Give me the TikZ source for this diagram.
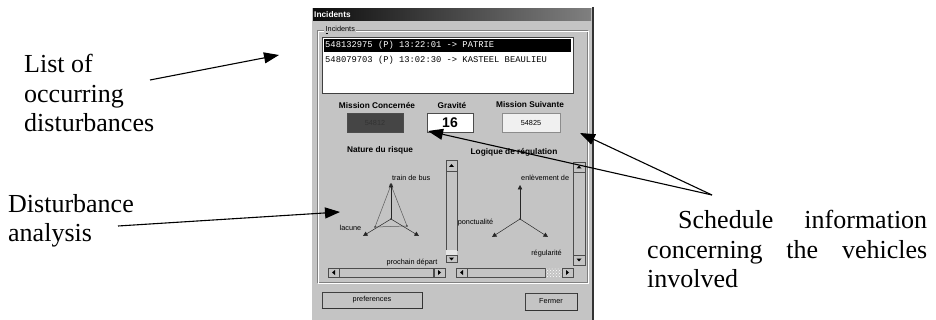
\documentclass[tikz,border=0pt]{standalone}
\usepackage{fontspec}
\setmainfont{Liberation Serif}
\setsansfont{Liberation Sans}
\setmonofont{Liberation Mono}
\usetikzlibrary{arrows.meta}
\usetikzlibrary{positioning}
\usetikzlibrary{patterns}
\definecolor{wgray}{rgb}{0.77, 0.77, 0.77}
\definecolor{wshade}{rgb}{0.5, 0.5, 0.5}
\definecolor{boxdark}{rgb}{0.27, 0.27, 0.27}

\begin{document}
\begin{tikzpicture}[x=1pt, y=-1pt,
    note/.style={font=\fontsize{26}{29.5}\selectfont, inner sep=0pt, align=left},
    callout/.style={line width=1.1pt, -{Triangle[length=15pt, width=11pt]}},
    uitext/.style={font=\sffamily\fontsize{7.3}{8.6}\selectfont, inner sep=0pt},
    uititle/.style={font=\sffamily\bfseries\fontsize{8.3}{10}\selectfont, inner sep=0pt},
    bevel/.style={path picture={\draw [white, line width=1.2pt] ([xshift=0.6pt]path picture bounding box.south west) |- ([yshift=-0.6pt]path picture bounding box.north east);}},
    button/.style={draw=black!75, fill=wgray, bevel, line width=0.6pt, inner sep=0pt, uitext},
    valbox/.style={draw=black!70, line width=0.7pt, minimum height=19pt, inner sep=0pt},
    axis/.style={-{Triangle[length=4.5pt, width=4.5pt]}, line width=0.5pt, black!85},
    scrl/.style={draw=black!70, fill=wgray, line width=0.5pt, bevel}
  ]
  \useasboundingbox (0,0) rectangle (936,320);

  \fill [wgray] (311,7) rectangle (593,320);
  \draw [white, line width=1pt] (311.5,320) -- (311.5,7.5) -- (592,7.5);
  \draw [black!80, line width=1.4pt] (593,7) -- (593,320);
  \shade [left color=black!95, right color=black!50] (313,9) rectangle (591,21);
  \node [uititle, white, anchor=west] (title) at (314,15) {Incidents};

  \draw [wshade] (317,30) rectangle (587,282);
  \draw [white] (318,31) rectangle (588,283);
  \node [uitext, fill=wgray, inner xsep=1.5pt, anchor=west] (grouplbl) at (324,30) {\underline{I}ncidents};

  \draw [fill=white, draw=black!75, line width=0.8pt] (322,37) rectangle (573,93);
  \fill [black] (324,39) rectangle (571,52);
  \node [anchor=west, font=\ttfamily\fontsize{8.8}{10}\selectfont, white, inner sep=0pt] (row1) at (325,45.5) {548132975 (P) 13:22:01 -> PATRIE};
  \node [anchor=west, font=\ttfamily\fontsize{8.8}{10}\selectfont, inner sep=0pt] (row2) at (325,60) {548079703 (P) 13:02:30 -> KASTEEL BEAULIEU};

  \node [uititle] (lblmc) at (377,105) {Mission Concernée};
  \node [uititle] (lblgr) at (452,105) {Gravité};
  \node [uititle] (lblms) at (530,105) {Mission Suivante};
  \node [valbox, fill=boxdark, minimum width=56pt, text=black!80, uitext] (mcbox) at (375,122.5) {54812};
  \node [valbox, fill=white, minimum width=46pt, font=\sffamily\bfseries\fontsize{14}{16}\selectfont] (grbox) at (450,122.5) {16};
  \node [valbox, fill=black!6, draw=black!45, minimum width=58pt, uitext] (msbox) at (531,122.5) {54825};

  \node [uititle] (lblnat) at (380,150) {Nature du risque};
  \node [uititle] (lbllog) at (514,152) {Logique de régulation};

  \coordinate (nc) at (391,219);
  \coordinate (ntop) at (391,183);
  \coordinate (nleft) at (363,236);
  \coordinate (nright) at (419,236);
  \draw [black!65, line width=0.5pt] (391,185) -- (375,227) -- (407,226) -- cycle;
  \draw [axis] (nc) -- (ntop);
  \draw [axis] (nc) -- (nleft);
  \draw [axis] (nc) -- (nright);
  \draw [black!80, line width=0.5pt] (391,185) circle (1.3);
  \fill [black!80] (375,227) circle (0.9) (407,226) circle (0.9) (nc) circle (0.9);
  \node [uitext, anchor=west] (lbltrain) at (392,178) {train de bus};
  \node [uitext] (lbllac) at (350.5,228) {lacune};
  \node [uitext] (lblproch) at (412,263) {prochain départ};

  \coordinate (lc) at (520,219);
  \coordinate (ltop) at (520,185);
  \coordinate (lleft) at (492,237);
  \coordinate (lright) at (548,237);
  \draw [axis] (lc) -- (ltop);
  \draw [axis] (lc) -- (lleft);
  \draw [axis] (lc) -- (lright);
  \fill [black!80] (lc) circle (1);
  \node [uitext, anchor=west] (lblenl) at (521,178) {enlèvement de};
  \node [uitext] (lblponc) at (475.5,223) {ponctualité};
  \node [uitext] (lblreg) at (546.5,254) {régularité};

  \draw [scrl] (446,160) rectangle (457,171);
  \fill (451.5,164) -- ++(-2.5,3) -- ++(5,0) -- cycle;
  \draw [scrl] (446,171) rectangle (457,250);
  \fill [black!10] (446.3,250) rectangle (456.7,255);
  \draw [scrl] (446,255) rectangle (457,262);
  \fill (451.5,260.5) -- ++(-2.5,-3) -- ++(5,0) -- cycle;

  \draw [scrl] (573,162) rectangle (585,172);
  \fill (579,165.5) -- ++(-2.5,3) -- ++(5,0) -- cycle;
  \draw [scrl] (573,172) rectangle (585,255);
  \draw [scrl] (573,255) rectangle (585,265);
  \fill (579,261.5) -- ++(-2.5,-3) -- ++(5,0) -- cycle;

  \draw [scrl] (328,268) rectangle (339,277);
  \fill (332,272.5) -- ++(3,-2.5) -- ++(0,5) -- cycle;
  \draw [scrl] (339,268) rectangle (433,277);
  \draw [scrl] (434,268) rectangle (445,277);
  \fill (441,272.5) -- ++(-3,-2.5) -- ++(0,5) -- cycle;

  \draw [scrl] (456,268) rectangle (467,277);
  \fill (460,272.5) -- ++(3,-2.5) -- ++(0,5) -- cycle;
  \draw [scrl] (467,268) rectangle (545,277);
  \fill [pattern=crosshatch dots, pattern color=white] (545,268.3) rectangle (562,276.7);
  \draw [scrl] (562,268) rectangle (573,277);
  \fill (569,272.5) -- ++(-3,-2.5) -- ++(0,5) -- cycle;

  \node [button, minimum width=100pt, minimum height=16pt] (prefbtn) at (372,300) {preferences};
  \draw [black!80, line width=1pt] (prefbtn.south west) -- (prefbtn.south east) -- (prefbtn.north east);
  \node [button, minimum width=52pt, minimum height=17pt] (fermerbtn) at (551,301.5) {Fermer};
  \draw [black!80, line width=1pt] (fermerbtn.south west) -- (fermerbtn.south east) -- (fermerbtn.north east);

  \node [note, anchor=north west] (listnote) at (24,54) {List of\\occurring\\disturbances};
  \node [note, anchor=north west] (analnote) at (8,194) {Disturbance\\analysis};
  \node [note, anchor=north west, text width=280pt] (schednote) at (647,210)
    {\hspace*{31pt}Schedule\hfill information\\concerning\hfill the\hfill vehicles\\involved};

  \coordinate (listtail) at (150,80);
  \coordinate (listtip) at (279,55);
  \coordinate (analtail) at (118,226);
  \coordinate (analtip) at (340,212);
  \coordinate (schedtail) at (712,195);
  \coordinate (schedtipa) at (580,133);
  \coordinate (schedtipb) at (428,131);
  \draw [callout] (listtail) -- (listtip);
  \draw [callout] (analtail) -- (analtip);
  \draw [callout] (schedtail) -- (schedtipa);
  \draw [callout] (schedtail) -- (schedtipb);
\end{tikzpicture}
\end{document}
